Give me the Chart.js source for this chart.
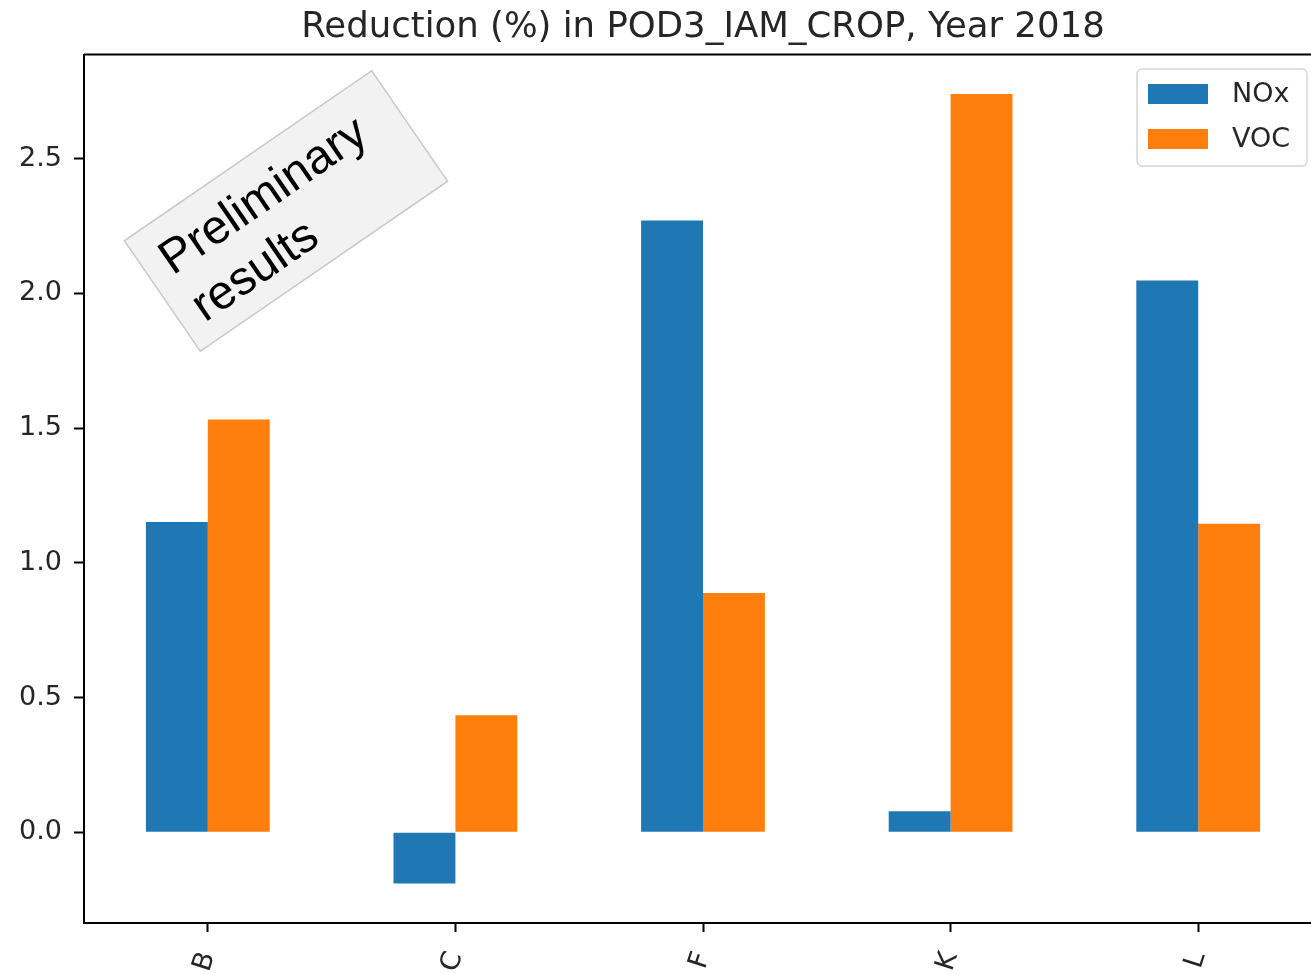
<!DOCTYPE html>
<html>
	<head>
		<title>Reduction</title>
        <meta charset="UTF-8">
        <script src="https://cdn.jsdelivr.net/npm/chart.js@4"></script>
        <style>
            body { margin: 0; background: #fff; }
            #wrap { width: 1311px; height: 974px; overflow: hidden; }
        </style>
	</head>
	<body>
        <div id="wrap">
            <canvas id="bar-chart" width="1340" height="974"></canvas>
        </div>

		<script>
            // values
            const categories = ['B', 'C', 'F', 'K', 'L'];
            const noxValues = [1.152, -0.19, 2.271, 0.078, 2.048];
            const vocValues = [1.532, 0.435, 0.888, 2.740, 1.145];
            const yTicks = [0.0, 0.5, 1.0, 1.5, 2.0, 2.5];
            const yMin = -0.3365;
            const yMax = 2.8865;
            const noteLines = ['Preliminary', 'results'];

            // top/right spines + legend + rotated note
            const extras = {
                id: 'extras',
                afterDraw(chart) {
                    const ctx = chart.ctx;
                    const a = chart.chartArea;
                    ctx.save();
                    ctx.strokeStyle = '#000';
                    ctx.lineWidth = 2;
                    ctx.beginPath();
                    ctx.moveTo(a.left, a.top);
                    ctx.lineTo(a.right, a.top);
                    ctx.lineTo(a.right, a.bottom);
                    ctx.stroke();

                    // legend
                    const lx = 1137, ly = 69, lw = 170, lh = 97;
                    ctx.beginPath();
                    ctx.roundRect(lx, ly, lw, lh, 5);
                    ctx.fillStyle = 'rgba(255,255,255,0.8)';
                    ctx.fill();
                    ctx.strokeStyle = '#d6d6d6';
                    ctx.lineWidth = 1.5;
                    ctx.stroke();
                    ctx.font = '27px "DejaVu Sans"';
                    ctx.textBaseline = 'middle';
                    ctx.textAlign = 'left';
                    chart.data.datasets.forEach((ds, i) => {
                        const cy = 94 + i * 45;
                        ctx.fillStyle = ds.backgroundColor;
                        ctx.fillRect(1148, cy - 10, 60, 20);
                        ctx.fillStyle = '#262626';
                        ctx.fillText(ds.label, 1232, cy + 1);
                    });

                    // note box
                    ctx.translate(286, 211);
                    ctx.rotate(-34.5 * Math.PI / 180);
                    ctx.beginPath();
                    ctx.rect(-150, -67, 300, 134);
                    ctx.fillStyle = '#f2f2f2';
                    ctx.fill();
                    ctx.strokeStyle = '#c8c8c8';
                    ctx.lineWidth = 1.5;
                    ctx.stroke();
                    ctx.font = '48px "Liberation Sans"';
                    ctx.fillStyle = '#000';
                    const tw = ctx.measureText(noteLines[0]).width;
                    noteLines.forEach((t, i) => {
                        ctx.fillText(t, -tw / 2 - 10, -24 + i * 57);
                    });
                    ctx.restore();
                }
            };

            new Chart(document.getElementById('bar-chart'), {
                type: 'bar',
                data: {
                    labels: categories,
                    datasets: [{
                        label: 'NOx',
                        data: noxValues,
                        backgroundColor: '#1f77b4',
                        categoryPercentage: 0.5,
                        barPercentage: 1.0
                    }, {
                        label: 'VOC',
                        data: vocValues,
                        backgroundColor: '#ff7f0e',
                        categoryPercentage: 0.5,
                        barPercentage: 1.0
                    }]
                },
                options: {
                    responsive: false,
                    animation: false,
                    layout: { padding: { left: 0, right: 18, top: 0, bottom: 0 } },
                    plugins: {
                        legend: { display: false },
                        tooltip: { enabled: false },
                        title: {
                            display: true,
                            fullSize: false,
                            text: 'Reduction (%) in POD3_IAM_CROP, Year 2018',
                            color: '#262626',
                            font: { family: 'DejaVu Sans', size: 35.5, weight: 'normal', lineHeight: 1.2 },
                            padding: { top: 6, bottom: 6 }
                        }
                    },
                    scales: {
                        x: {
                            offset: true,
                            grid: { display: true, drawOnChartArea: false, drawTicks: true, tickLength: 9, tickColor: '#000', tickWidth: 2, offset: false },
                            border: { display: true, color: '#000', width: 2 },
                            ticks: {
                                color: '#262626',
                                font: { family: 'DejaVu Sans', size: 27 },
                                minRotation: 72,
                                maxRotation: 72,
                                padding: 16
                            },
                            afterFit(scale) { scale.height = 51; }
                        },
                        y: {
                            min: yMin,
                            max: yMax,
                            grid: { display: true, drawOnChartArea: false, drawTicks: true, tickLength: 10, tickColor: '#000', tickWidth: 2 },
                            border: { display: true, color: '#000', width: 2 },
                            ticks: {
                                color: '#262626',
                                font: { family: 'DejaVu Sans', size: 27 },
                                padding: 12,
                                callback: v => v.toFixed(1)
                            },
                            afterBuildTicks(scale) { scale.ticks = yTicks.map(v => ({ value: v })); },
                            afterFit(scale) { scale.width = 84; }
                        }
                    }
                },
                plugins: [extras]
            });
		</script>
	</body>
</html>
